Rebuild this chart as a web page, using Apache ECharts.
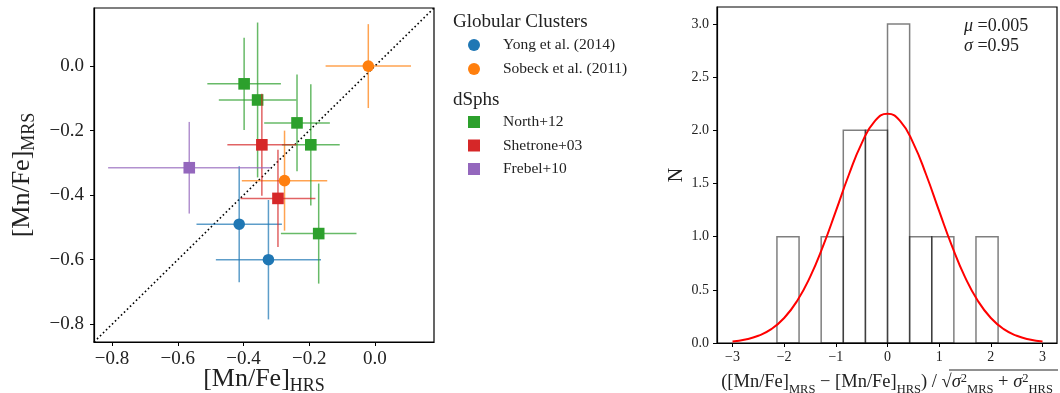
<!DOCTYPE html>
<html><head><meta charset="utf-8">
<script src="https://cdn.jsdelivr.net/npm/echarts@6/dist/echarts.min.js"></script>
<style>html,body{margin:0;padding:0;background:#fff}#c{width:1060px;height:393px}</style>
</head><body><div id="c"></div>
<script>
// ---- data ----
const yongX = [-0.413, -0.324], yongY = [-0.49, -0.60], yongXerr = [0.13, 0.16], yongYerr = [0.18, 0.185];
const sobeckX = [-0.02, -0.275], sobeckY = [0.0, -0.355], sobeckXerr = [0.13, 0.13], sobeckYerr = [0.13, 0.155];
const northX = [-0.398, -0.357, -0.237, -0.195, -0.171];
const northY = [-0.055, -0.105, -0.176, -0.244, -0.519];
const northXerr = [0.112, 0.118, 0.10, 0.088, 0.115];
const northYerr = [0.143, 0.24, 0.15, 0.188, 0.155];
const shetroneX = [-0.344, -0.295], shetroneY = [-0.244, -0.41], shetroneXerr = [0.105, 0.114], shetroneYerr = [0.158, 0.151];
const frebelX = [-0.565], frebelY = [-0.315], frebelXerr = [0.247], frebelYerr = [0.142];
const scatterRange = [-0.855, 0.18];
const scatterTicks = [-0.8, -0.6, -0.4, -0.2, 0.0];

const binEdges = [-2.14, -1.712, -1.284, -0.856, -0.428, 0.0, 0.428, 0.856, 1.284, 1.712, 2.14];
const binCounts = [1, 0, 1, 2, 2, 3, 1, 1, 0, 1];
const gaussX = [-3, -2.75, -2.5, -2.25, -2, -1.75, -1.5, -1.25, -1, -0.75, -0.5, -0.25, 0, 0.25, 0.5, 0.75, 1, 1.25, 1.5, 1.75, 2, 2.25, 2.5, 2.75, 3];
const gaussY = [0.015, 0.033, 0.068, 0.130, 0.235, 0.395, 0.620, 0.908, 1.240, 1.580, 1.878, 2.084, 2.157, 2.084, 1.878, 1.580, 1.240, 0.908, 0.620, 0.395, 0.235, 0.130, 0.068, 0.033, 0.015];
const histXTicks = [-3, -2, -1, 0, 1, 2, 3];
const histYTicks = [0, 0.5, 1.0, 1.5, 2.0, 2.5, 3.0];
const histXRange = [-3.3, 3.28], histYRange = [0, 3.16];

// ---- helpers ----
const SERIF = '"Liberation Serif", "DejaVu Serif", serif';
const fmt1 = v => (Math.abs(v) < 1e-9 ? 0 : v).toFixed(1).replace('-', '\u2212');
const fmt0 = v => String(Math.round(v)).replace('-', '\u2212');
function rows(x, y, xe, ye) { return x.map((v, i) => [v, y[i], xe[i], ye[i]]); }
function rgba(hex, a) {
  const n = parseInt(hex.slice(1), 16);
  return `rgba(${n >> 16},${(n >> 8) & 255},${n & 255},${a})`;
}
function errSeries(name, color, shape, data) {
  return {
    type: 'custom', name, xAxisIndex: 0, yAxisIndex: 0,
    itemStyle: { color }, data,
    encode: { x: 0, y: 1 },
    renderItem(params, api) {
      const x = api.value(0), y = api.value(1), xe = api.value(2), ye = api.value(3);
      const c = api.coord([x, y]);
      const l = api.coord([x - xe, y]), r = api.coord([x + xe, y]);
      const t = api.coord([x, y + ye]), b = api.coord([x, y - ye]);
      const ls = { stroke: rgba(color, 0.72), lineWidth: 1.5 };
      const mk = shape === 'circle'
        ? { type: 'circle', shape: { cx: c[0], cy: c[1], r: 5.8 }, style: { fill: color } }
        : { type: 'rect', shape: { x: c[0] - 5.8, y: c[1] - 5.8, width: 11.6, height: 11.6 }, style: { fill: color } };
      return { type: 'group', children: [
        { type: 'line', shape: { x1: l[0], y1: l[1], x2: r[0], y2: r[1] }, style: ls },
        { type: 'line', shape: { x1: t[0], y1: t[1], x2: b[0], y2: b[1] }, style: ls },
        mk
      ] };
    }
  };
}

const axisCommon = {
  axisLine: { show: true, onZero: false, lineStyle: { color: '#000', width: 1.2 } },
  splitLine: { show: false },
  nameMoveOverlap: false,
  axisTick: { show: true, inside: false, length: 4, lineStyle: { color: '#000', width: 1 } }
};

const option = {
  animation: false,
  backgroundColor: '#fff',
  grid: [
    { left: 94, top: 8, width: 340, height: 334, outerBoundsMode: 'none', containLabel: false, show: true, borderColor: '#000', borderWidth: 1.2, backgroundColor: 'transparent' },
    { left: 717, top: 7, width: 340, height: 336, outerBoundsMode: 'none', containLabel: false, show: true, borderColor: '#000', borderWidth: 1.2, backgroundColor: 'transparent' }
  ],
  xAxis: [
    Object.assign({}, axisCommon, {
      type: 'value', gridIndex: 0, min: scatterRange[0], max: scatterRange[1],
      axisTick: Object.assign({}, axisCommon.axisTick, { customValues: scatterTicks }),
      axisLabel: { customValues: scatterTicks, formatter: fmt1, fontFamily: SERIF, fontSize: 19, color: '#222', margin: 8 },
      name: '{m|[Mn/Fe]}{s|HRS}', nameLocation: 'middle', nameGap: 23,
      nameTextStyle: { rich: {
        m: { fontFamily: SERIF, fontSize: 26, color: '#222', verticalAlign: 'bottom', lineHeight: 30, padding: [0, 0, 3, 0] },
        s: { fontFamily: SERIF, fontSize: 18, color: '#222', verticalAlign: 'bottom', lineHeight: 20 }
      } }
    }),
    Object.assign({}, axisCommon, {
      type: 'value', gridIndex: 1, min: histXRange[0], max: histXRange[1],
      axisTick: Object.assign({}, axisCommon.axisTick, { customValues: histXTicks }),
      axisLabel: { customValues: histXTicks, formatter: fmt0, fontFamily: SERIF, fontSize: 14, color: '#222', margin: 7 },
      name: '{m|([Mn/Fe]}{s|MRS}{m| \u2212 [Mn/Fe]}{s|HRS}{m|) / \u221A}{i|\u03C3}{p|2}{s|MRS}{m| + }{i|\u03C3}{p|2}{s|HRS}',
      nameLocation: 'middle', nameGap: 31,
      nameTextStyle: { rich: {
        m: { fontFamily: SERIF, fontSize: 18.5, color: '#222', verticalAlign: 'bottom', lineHeight: 22, padding: [0, 0, 4, 0] },
        i: { fontFamily: SERIF, fontSize: 18.5, fontStyle: 'italic', color: '#222', verticalAlign: 'bottom', lineHeight: 22, padding: [0, 0, 4, 0] },
        s: { fontFamily: SERIF, fontSize: 12.5, color: '#222', verticalAlign: 'bottom', lineHeight: 14 },
        p: { fontFamily: SERIF, fontSize: 12.5, color: '#222', verticalAlign: 'bottom', lineHeight: 14, padding: [0, 0, 11, 0] }
      } }
    })
  ],
  yAxis: [
    Object.assign({}, axisCommon, {
      type: 'value', gridIndex: 0, min: scatterRange[0], max: scatterRange[1],
      axisTick: Object.assign({}, axisCommon.axisTick, { customValues: scatterTicks }),
      axisLabel: { customValues: scatterTicks, formatter: fmt1, fontFamily: SERIF, fontSize: 19, color: '#222', margin: 10 },
      name: '{m|[Mn/Fe]}{s|MRS}', nameLocation: 'middle', nameGap: 56, nameRotate: 90,
      nameTextStyle: { rich: {
        m: { fontFamily: SERIF, fontSize: 26, color: '#222', verticalAlign: 'bottom', lineHeight: 30, padding: [0, 0, 3, 0] },
        s: { fontFamily: SERIF, fontSize: 18, color: '#222', verticalAlign: 'bottom', lineHeight: 20 }
      } }
    }),
    Object.assign({}, axisCommon, {
      type: 'value', gridIndex: 1, min: histYRange[0], max: histYRange[1],
      axisTick: Object.assign({}, axisCommon.axisTick, { customValues: histYTicks }),
      axisLabel: { customValues: histYTicks, formatter: fmt1, fontFamily: SERIF, fontSize: 14, color: '#222', margin: 8 },
      name: 'N', nameLocation: 'middle', nameGap: 30, nameRotate: 90,
      nameTextStyle: { fontFamily: SERIF, fontSize: 20, color: '#222' }
    })
  ],
  legend: [
    { orient: 'vertical', left: 463, top: 31, itemWidth: 12, itemHeight: 12, itemGap: 6,
      data: [{ name: 'Yong et al. (2014)', icon: 'circle' }, { name: 'Sobeck et al. (2011)', icon: 'circle' }],
      textStyle: { fontFamily: SERIF, fontSize: 15.5, color: '#222', padding: [0, 0, 0, 18], lineHeight: 18 } },
    { orient: 'vertical', left: 463, top: 108, itemWidth: 12, itemHeight: 12, itemGap: 5.5,
      data: [{ name: 'North+12', icon: 'rect' }, { name: 'Shetrone+03', icon: 'rect' }, { name: 'Frebel+10', icon: 'rect' }],
      textStyle: { fontFamily: SERIF, fontSize: 15.5, color: '#222', padding: [0, 0, 0, 18], lineHeight: 18 } }
  ],
  graphic: [
    { type: 'text', left: 453, top: 13, style: { text: 'Globular Clusters', font: '19px ' + SERIF, fill: '#222' } },
    { type: 'text', left: 453, top: 91, style: { text: 'dSphs', font: '19px ' + SERIF, fill: '#222' } },
    { type: 'text', left: 964, top: 16, style: { text: '{i|\u03BC} =0.005\n{i|\u03C3} =0.95', font: '18px ' + SERIF, fill: '#222', lineHeight: 20,
        rich: { i: { fontFamily: SERIF, fontSize: 18, fontStyle: 'italic', fill: '#222' } } } },
    { type: 'line', shape: { x1: 949, y1: 370, x2: 1058, y2: 370 }, style: { stroke: '#222', lineWidth: 1 } }
  ],
  series: [
    { type: 'line', xAxisIndex: 0, yAxisIndex: 0, data: [[scatterRange[0], scatterRange[0]], [scatterRange[1], scatterRange[1]]],
      showSymbol: false, symbol: 'none', silent: true, z: 1,
      lineStyle: { color: '#000', width: 1.6, type: [1.6, 2.6] } },
    errSeries('Yong et al. (2014)', '#1f77b4', 'circle', rows(yongX, yongY, yongXerr, yongYerr)),
    errSeries('Sobeck et al. (2011)', '#ff7f0e', 'circle', rows(sobeckX, sobeckY, sobeckXerr, sobeckYerr)),
    errSeries('North+12', '#2ca02c', 'rect', rows(northX, northY, northXerr, northYerr)),
    errSeries('Shetrone+03', '#d62728', 'rect', rows(shetroneX, shetroneY, shetroneXerr, shetroneYerr)),
    errSeries('Frebel+10', '#9467bd', 'rect', rows(frebelX, frebelY, frebelXerr, frebelYerr)),
    { type: 'custom', name: 'hist', xAxisIndex: 1, yAxisIndex: 1,
      data: binCounts.map((c, i) => [binEdges[i], binEdges[i + 1], c]),
      encode: { x: [0, 1], y: 2 },
      renderItem(params, api) {
        const c = api.value(2);
        if (!c) return null;
        const p0 = api.coord([api.value(0), 0]), p1 = api.coord([api.value(1), c]);
        return { type: 'rect', shape: { x: p0[0], y: p1[1], width: p1[0] - p0[0], height: p0[1] - p1[1] },
          style: { fill: 'none', stroke: 'rgba(0,0,0,0.5)', lineWidth: 1.5 } };
      } },
    { type: 'line', xAxisIndex: 1, yAxisIndex: 1, data: gaussX.map((x, i) => [x, gaussY[i]]),
      smooth: true, showSymbol: false, symbol: 'none', z: 3,
      lineStyle: { color: '#ff0000', width: 2 } }
  ]
};
const chart = echarts.init(document.getElementById('c'), null, { renderer: 'canvas' });
chart.setOption(option);
</script></body></html>
